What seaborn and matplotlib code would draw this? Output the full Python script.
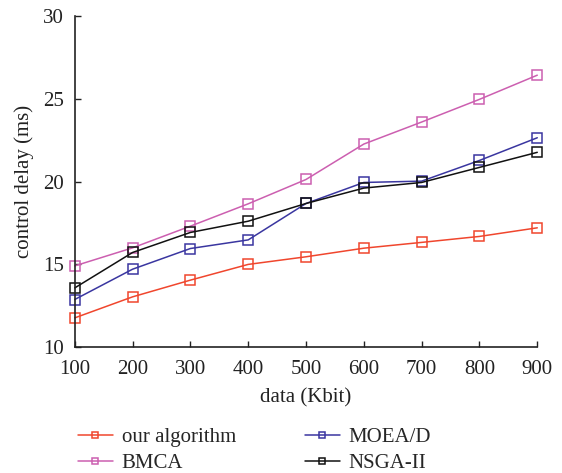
import matplotlib
matplotlib.use("Agg")
import matplotlib.pyplot as plt
import seaborn as sns
import pandas as pd

data_kbit = [100, 200, 300, 400, 500, 600, 700, 800, 900]
our_algorithm = [11.77, 13.04, 14.05, 15.0, 15.46, 15.98, 16.33, 16.69, 17.21]
bmca = [14.91, 16.0, 17.31, 18.66, 20.13, 22.27, 23.6, 24.97, 26.43]
moead = [12.88, 14.71, 15.96, 16.48, 18.68, 19.95, 20.03, 21.28, 22.65]
nsga2 = [13.58, 15.72, 16.93, 17.61, 18.68, 19.61, 19.95, 20.86, 21.77]

series_names = ["our algorithm", "BMCA", "MOEA/D", "NSGA-II"]
series_values = [our_algorithm, bmca, moead, nsga2]
colors = ["#f0462d", "#cc5fb0", "#3a36a0", "#111111"]
x_ticks = [100, 200, 300, 400, 500, 600, 700, 800, 900]
y_ticks = [10, 15, 20, 25, 30]

sns.set_theme(style="ticks")
plt.rcParams["font.family"] = ["Liberation Serif", "DejaVu Serif"]
plt.rcParams["font.size"] = 15

fig = plt.figure(figsize=(5.62, 4.73), dpi=100)
ax = fig.add_axes([0.133, 0.266, 0.823, 0.700])

for name, vals, c in zip(series_names, series_values, colors):
    df = pd.DataFrame({"data": data_kbit, "delay": vals})
    sns.lineplot(data=df, x="data", y="delay", ax=ax, color=c, label=name,
                 marker="s", markersize=6.5, markerfacecolor="none",
                 markeredgecolor=c, markeredgewidth=1.1, linewidth=1.1,
                 clip_on=False)

ax.set_xlim(100, 900)
ax.set_ylim(10, 30)
ax.set_xticks(x_ticks)
ax.set_yticks(y_ticks)
ax.tick_params(direction="in", length=4, width=1, labelsize=15, colors="#222222")
ax.tick_params(axis="x", pad=9)
ax.tick_params(axis="y", pad=8)
for s in ["top", "right"]:
    ax.spines[s].set_visible(False)
for s in ["left", "bottom"]:
    ax.spines[s].set_linewidth(1.2)
    ax.spines[s].set_color("#222222")

ax.set_xlabel("data (Kbit)", fontsize=15, color="#222222", labelpad=7)
ax.set_ylabel("control delay (ms)", fontsize=15, color="#222222", labelpad=6)

handles, labels = ax.get_legend_handles_labels()
ax.get_legend().remove()
fig.legend(handles, labels, ncol=2, loc="lower left",
           bbox_to_anchor=(0.105, -0.04), frameon=False, fontsize=15,
           handlelength=1.7, columnspacing=3.3, labelspacing=0.3,
           markerscale=0.75, handletextpad=0.4)

fig.savefig("out.png", dpi=100)
